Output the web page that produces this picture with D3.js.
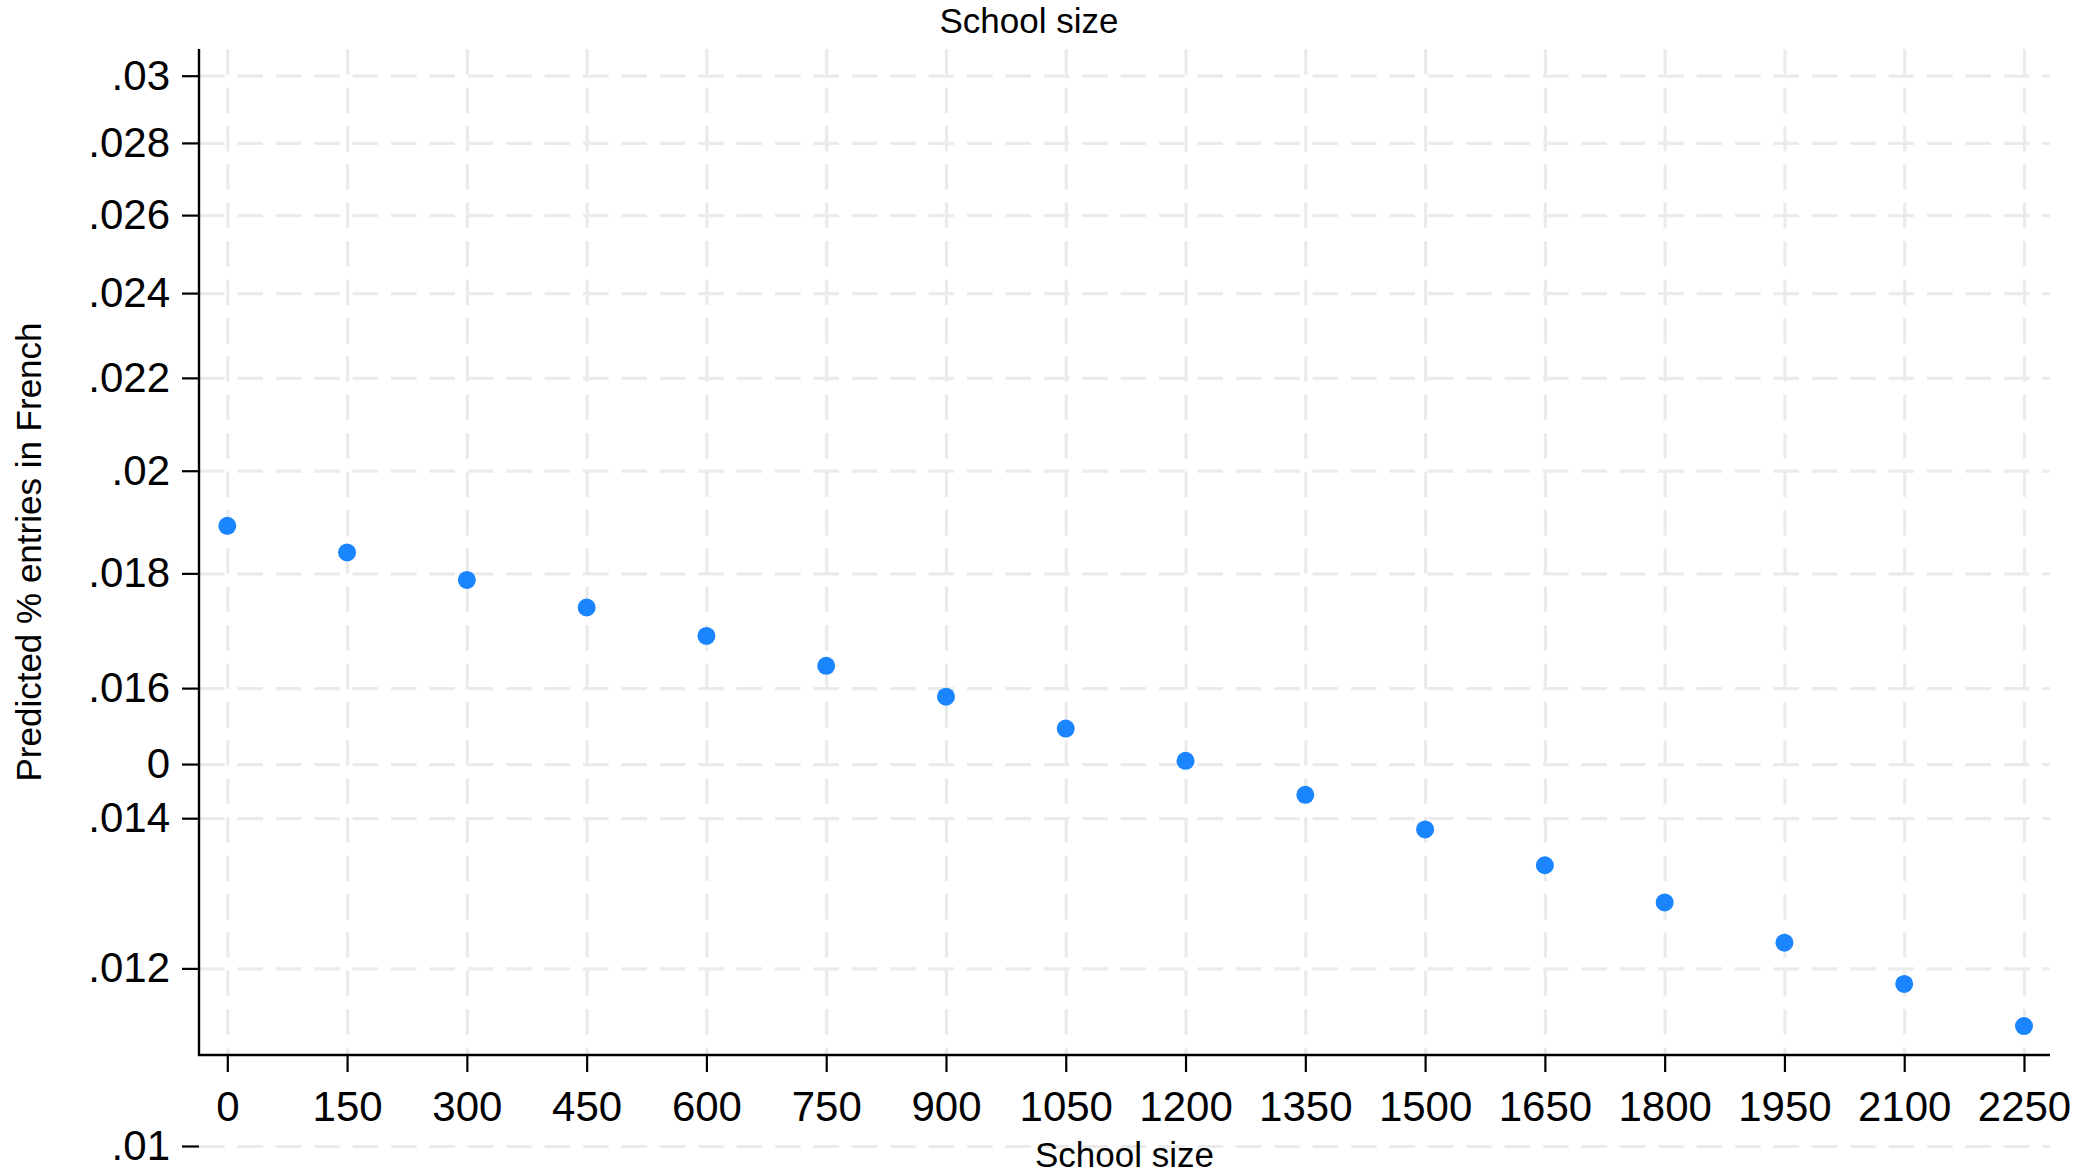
<!DOCTYPE html>
<html>
<head>
<meta charset="utf-8">
<script src="https://cdn.jsdelivr.net/npm/d3@7/dist/d3.min.js"></script>
<style>
  html, body { margin: 0; padding: 0; background: #ffffff; }
  svg { display: block; }
  text { font-family: "Liberation Sans", Arial, Helvetica, sans-serif; fill: #000; }
</style>
</head>
<body>
<svg id="chart" width="2094" height="1176"></svg>
<script>
// ---- data ----
const schoolSize = [0, 150, 300, 450, 600, 750, 900, 1050, 1200, 1350, 1500, 1650, 1800, 1950, 2100, 2250];
const predicted = [0.01890, 0.01839, 0.01788, 0.01738, 0.01688, 0.01637, 0.01586, 0.01535,
                   0.01485, 0.01434, 0.01384, 0.01334, 0.01284, 0.01232, 0.01181, 0.01131];
const xTickValues = [0, 150, 300, 450, 600, 750, 900, 1050, 1200, 1350, 1500, 1650, 1800, 1950, 2100, 2250];
const yTickValues = [0.03, 0.028, 0.026, 0.024, 0.022, 0.02, 0.018, 0.016, 0.0148, 0.014, 0.012, 0.01];
const yTickLabels = [".03", ".028", ".026", ".024", ".022", ".02", ".018", ".016", "0", ".014", ".012", ".01"];
const xTitle = "School size";
const topTitle = "School size";
const yTitle = "Predicted % entries in French";

// ---- layout ----
const svg = d3.select("#chart");
const plotLeft = 199, plotRight = 2050, plotTop = 49, plotBottom = 1055;
const x = d3.scaleLinear().domain([0, 2250]).range([227.3, 2024]);
const y = d3.scaleLog().domain([0.01, 0.03]).range([1146, 75.7]);

const gridColor = "#ebebeb";
const dash = "25.6,12.8";

// horizontal grid lines
const hGrid = svg.append("g")
  .attr("transform", `translate(${plotLeft},0)`)
  .call(d3.axisRight(y).tickValues(yTickValues).tickSize(plotRight - plotLeft).tickFormat(""));
hGrid.select(".domain").remove();
hGrid.selectAll(".tick line")
  .attr("stroke", gridColor).attr("stroke-width", 3.2).attr("stroke-dasharray", dash);

// vertical grid lines
const vGrid = svg.append("g")
  .attr("transform", `translate(0,${plotTop})`)
  .call(d3.axisBottom(x).tickValues(xTickValues).tickSize(plotBottom - plotTop).tickFormat(""));
vGrid.select(".domain").remove();
vGrid.selectAll(".tick line")
  .attr("stroke", gridColor).attr("stroke-width", 3.2).attr("stroke-dasharray", dash);

// y axis
const yAxis = svg.append("g")
  .attr("transform", `translate(${plotLeft},0)`)
  .call(d3.axisLeft(y).tickValues(yTickValues).tickSize(17).tickPadding(12)
        .tickFormat((d, i) => yTickLabels[i]));
yAxis.select(".domain").remove();
yAxis.selectAll(".tick line").attr("stroke", "#000").attr("stroke-width", 2.2);
yAxis.selectAll(".tick text").attr("font-size", 42).attr("fill", "#000")
  .style("font-family", '"Liberation Sans", Arial, sans-serif');
svg.append("line")
  .attr("x1", plotLeft).attr("x2", plotLeft)
  .attr("y1", plotTop).attr("y2", plotBottom + 1)
  .attr("stroke", "#000").attr("stroke-width", 2.4);

// x axis
const xAxis = svg.append("g")
  .attr("transform", `translate(0,${plotBottom})`)
  .call(d3.axisBottom(x).tickValues(xTickValues).tickSize(17).tickPadding(19)
        .tickFormat(d3.format("d")));
xAxis.select(".domain").remove();
xAxis.selectAll(".tick line").attr("stroke", "#000").attr("stroke-width", 2.2);
xAxis.selectAll(".tick text").attr("font-size", 42).attr("fill", "#000")
  .style("font-family", '"Liberation Sans", Arial, sans-serif');
svg.append("line")
  .attr("x1", plotLeft - 1).attr("x2", plotRight)
  .attr("y1", plotBottom).attr("y2", plotBottom)
  .attr("stroke", "#000").attr("stroke-width", 2.4);

// points
svg.append("g").selectAll("circle")
  .data(schoolSize.map((s, i) => ({ s, v: predicted[i] })))
  .join("circle")
  .attr("cx", d => x(d.s))
  .attr("cy", d => y(d.v))
  .attr("r", 9)
  .attr("fill", "#1a85ff");

// titles
svg.append("text")
  .attr("x", 1029).attr("y", 33)
  .attr("text-anchor", "middle").attr("font-size", 35)
  .text(topTitle);
svg.append("text")
  .attr("x", (plotLeft + plotRight) / 2).attr("y", 1167)
  .attr("text-anchor", "middle").attr("font-size", 35)
  .text(xTitle);
svg.append("text")
  .attr("transform", `translate(41,${(plotTop + plotBottom) / 2}) rotate(-90)`)
  .attr("text-anchor", "middle").attr("font-size", 35)
  .text(yTitle);
</script>
</body>
</html>
